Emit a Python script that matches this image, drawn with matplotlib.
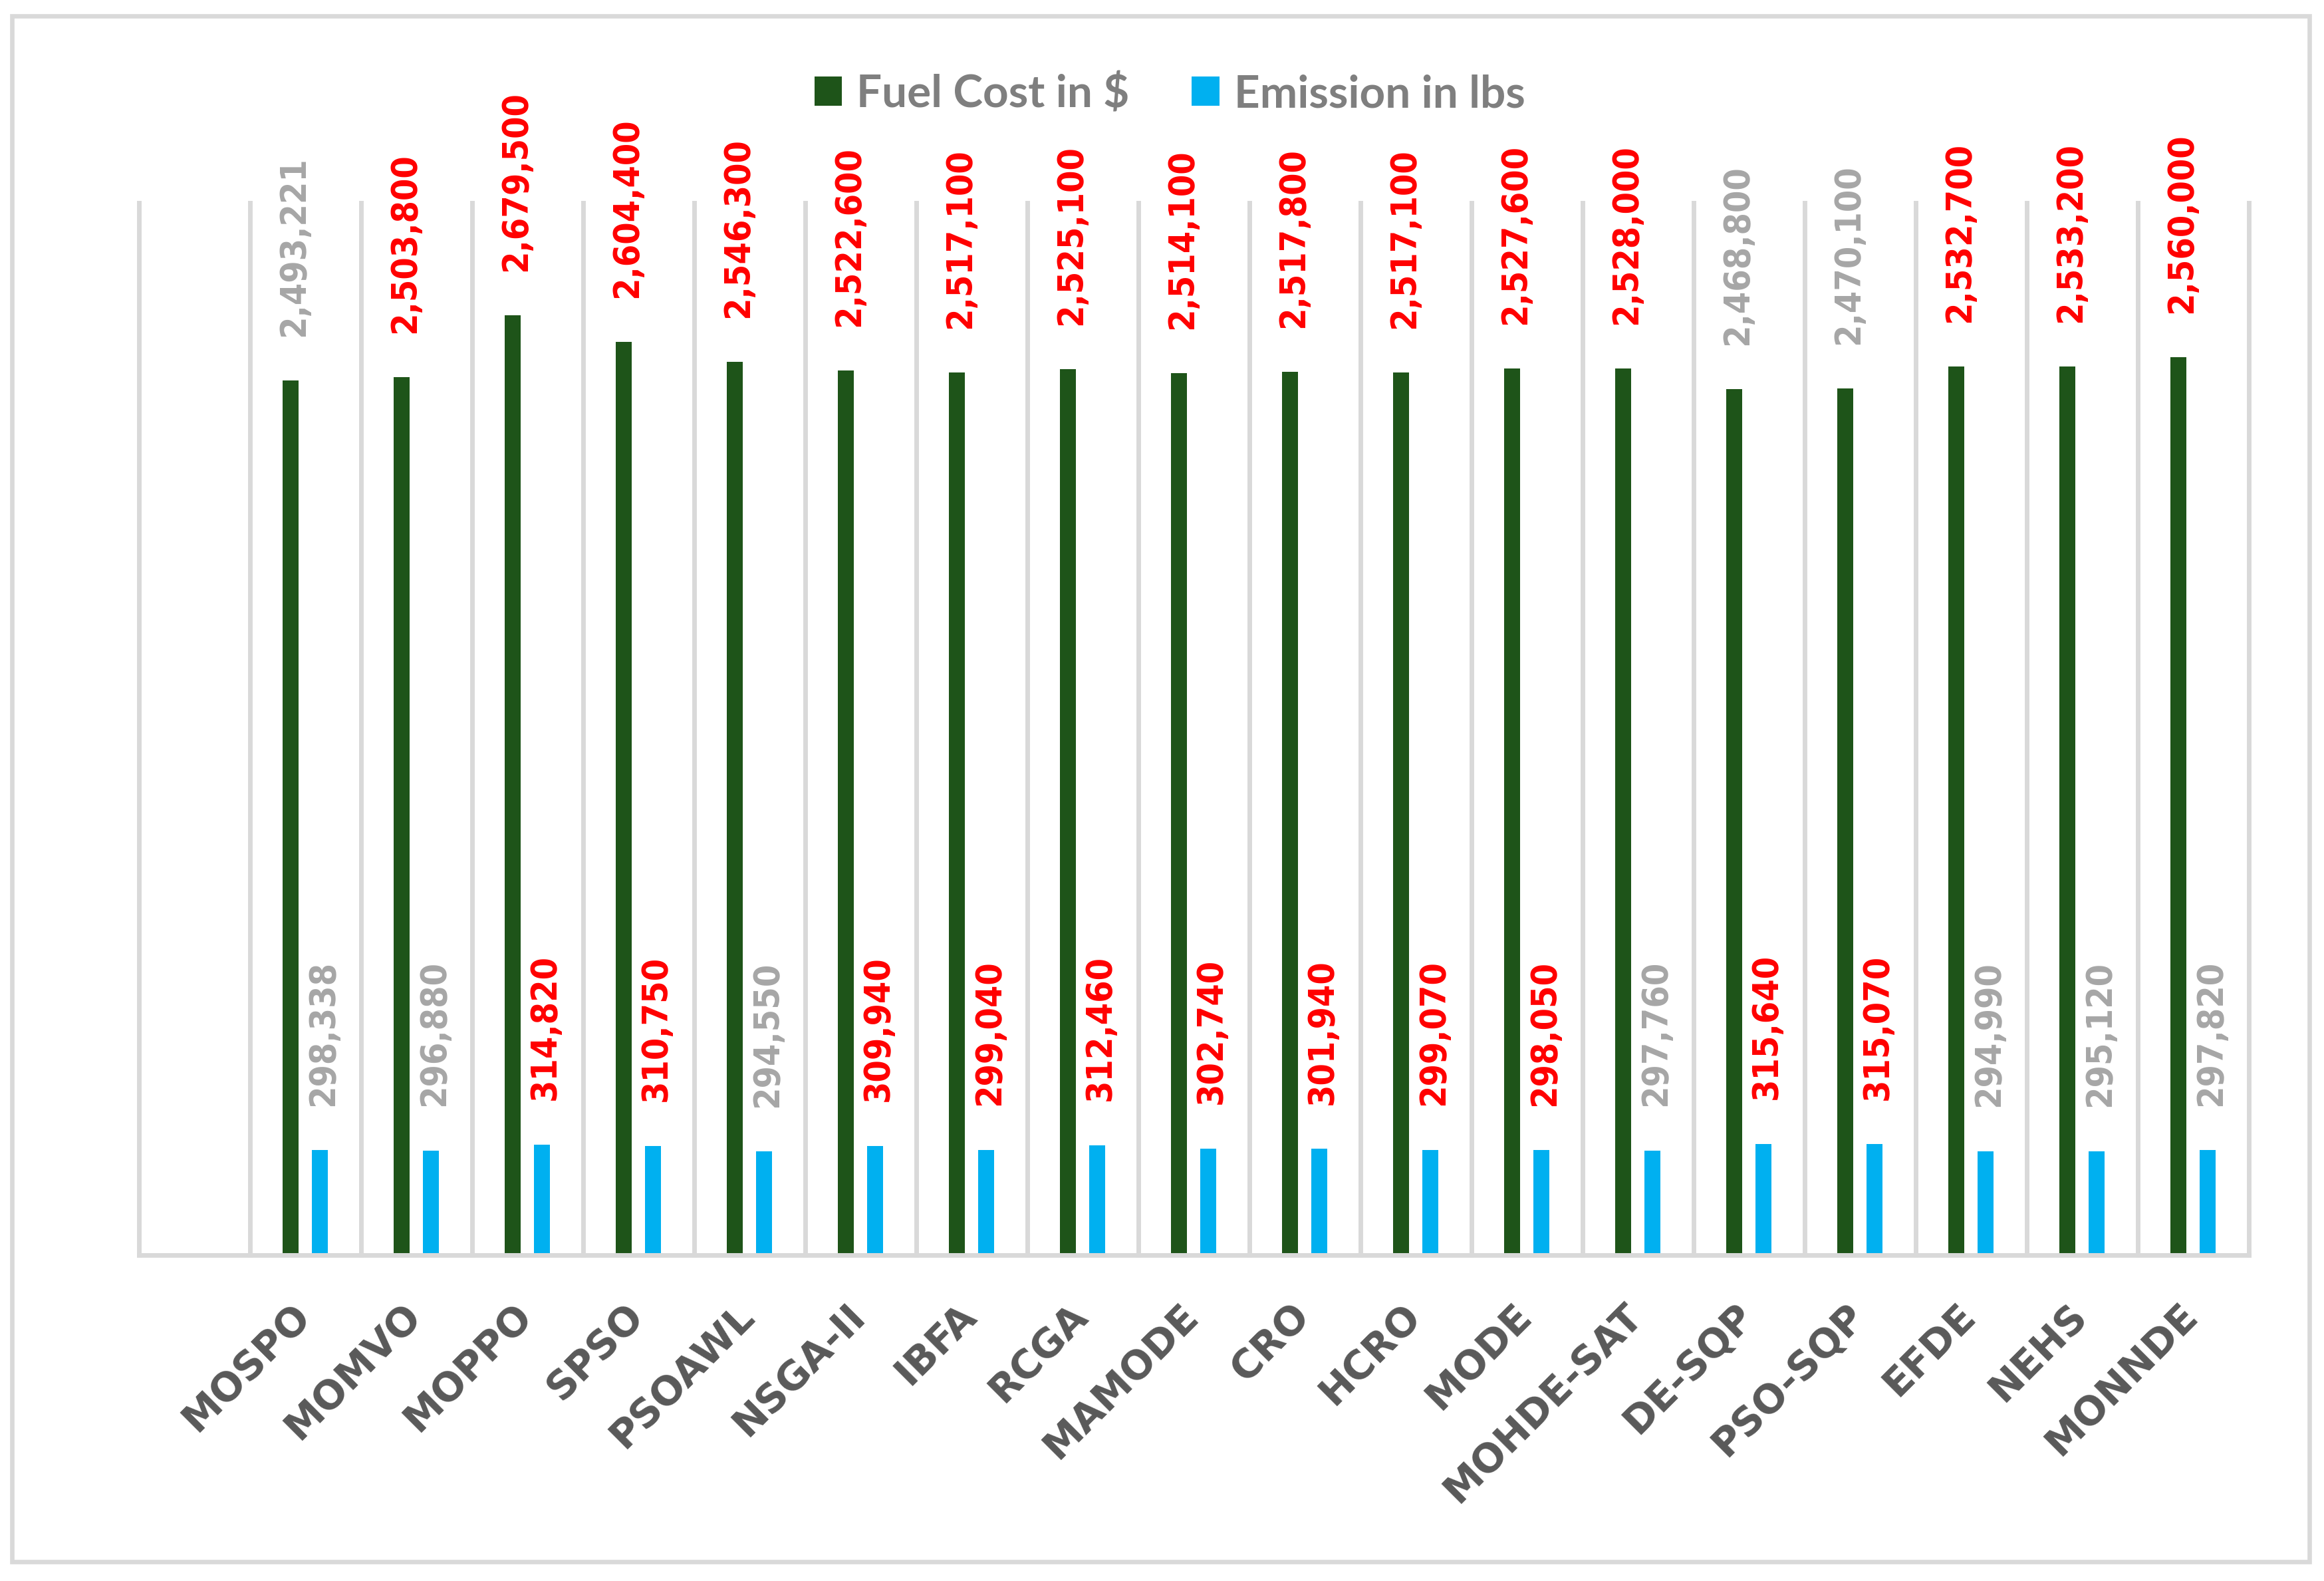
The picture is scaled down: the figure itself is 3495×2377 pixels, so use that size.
import numpy as np
import matplotlib
matplotlib.use("Agg")
import matplotlib.pyplot as plt
import matplotlib.transforms as mtransforms
from matplotlib import font_manager as fm
from matplotlib.patches import Rectangle, Patch

# ---------------- data ----------------
categories = ["MOSPO", "MOMVO", "MOPPO", "SPSO", "PSOAWL", "NSGA-II", "IBFA", "RCGA",
              "MAMODE", "CRO", "HCRO", "MODE", "MOHDE-SAT", "DE-SQP", "PSO-SQP",
              "EFDE", "NEHS", "MONNDE"]
fuel_cost = [2493221, 2503800, 2679500, 2604400, 2546300, 2522600, 2517100, 2525100,
             2514100, 2517800, 2517100, 2527600, 2528000, 2468800, 2470100,
             2532700, 2533200, 2560000]
emission = [298338, 296880, 314820, 310750, 294550, 309940, 299040, 312460,
            302740, 301940, 299070, 298050, 297760, 315640, 315070,
            294990, 295120, 297820]
# label colour flags: 'r' = red, 'g' = grey
fuel_label_col = ['g', 'r', 'r', 'r', 'r', 'r', 'r', 'r', 'r', 'r', 'r', 'r', 'r',
                  'g', 'g', 'r', 'r', 'r']
emis_label_col = ['g', 'g', 'r', 'r', 'g', 'r', 'r', 'r', 'r', 'r', 'r', 'r', 'g',
                  'r', 'r', 'g', 'g', 'g']
series_names = ["Fuel Cost in $", "Emission in lbs"]

# ---------------- style ----------------
GREEN = "#1E5419"
BLUE = "#00B0F0"
RED = "#FF0000"
GREY_LBL = "#A6A6A6"
GRID = "#D9D9D9"
TICK_COL = "#595959"
col_map = {'r': RED, 'g': GREY_LBL}

W, H, DPI = 3495, 2377, 100
fig = plt.figure(figsize=(W / DPI, H / DPI), dpi=DPI)
fig.patch.set_facecolor("white")

# outer chart border
fig.patches.append(Rectangle((18.3 / W, 1 - 2348 / H), (3472.5 - 18.3) / W, (2348 - 23.5) / H,
                             transform=fig.transFigure, fill=False, edgecolor=GRID,
                             linewidth=4.8, zorder=0))

left, right = 208.5 / W, 3381.5 / W
bottom, top = 1 - 1886.5 / H, 1 - 305 / H
ax = fig.add_axes([left, bottom, right - left, top - bottom])

n = len(categories)
x = np.arange(1, n + 1)          # first slot (0) is an empty category
bw = 0.142
off = 0.131

ax.bar(x - off, fuel_cost, width=bw, color=GREEN, zorder=2)
ax.bar(x + off, emission, width=bw, color=BLUE, zorder=2)

ax.set_xlim(-0.5, n + 0.5)
ax.set_ylim(0, 3000000)

# vertical separators between categories
for b in np.arange(-0.5, n + 1.0, 1.0):
    ax.axvline(b, color=GRID, linewidth=5, zorder=1, clip_on=False)

for s in ["left", "right", "top"]:
    ax.spines[s].set_visible(False)
ax.spines["bottom"].set_color(GRID)
ax.spines["bottom"].set_linewidth(5)
ax.spines["bottom"].set_zorder(3)
ax.set_yticks([])

# value-label font
cond = fm.FontProperties(family="DejaVu Sans", weight="bold", stretch="condensed")
cpath = fm.findfont(cond)
if "Condensed" in cpath:
    val_fp = fm.FontProperties(fname=cpath, size=38.5)
else:
    val_fp = fm.FontProperties(family="DejaVu Sans", weight="bold", size=36)

for xi, v, c in zip(x, fuel_cost, fuel_label_col):
    ax.annotate(f"{v:,}", xy=(xi - off, v), xytext=(3.5, 47.5), textcoords="offset points",
                rotation=90, ha="center", va="bottom", color=col_map[c],
                fontproperties=val_fp, zorder=4, annotation_clip=False)
for xi, v, c in zip(x, emission, emis_label_col):
    ax.annotate(f"{v:,}", xy=(xi + off, v), xytext=(3.5, 48), textcoords="offset points",
                rotation=90, ha="center", va="bottom", color=col_map[c],
                fontproperties=val_fp, zorder=4, annotation_clip=False)

# category labels
ax.set_xticks(x)
ax.set_xticklabels(categories)
ax.tick_params(axis="x", length=0, pad=68, labelsize=42.5, labelcolor=TICK_COL)
shift = mtransforms.ScaledTranslation(10 / DPI, 0, fig.dpi_scale_trans)
for lab in ax.get_xticklabels():
    lab.set_fontfamily("DejaVu Sans")
    lab.set_fontweight("bold")
    lab.set_rotation(45)
    lab.set_ha("right")
    lab.set_va("baseline")
    lab.set_rotation_mode("anchor")
    lab.set_transform(lab.get_transform() + shift)

# legend
handles = [Patch(facecolor=GREEN, edgecolor="none"), Patch(facecolor=BLUE, edgecolor="none")]
leg = fig.legend(handles, series_names, loc="center", bbox_to_anchor=(1759 / W, 1 - 142 / H),
                 ncol=2, frameon=False, handlelength=0.62, handleheight=0.62,
                 handletextpad=0.32, columnspacing=1.4, borderaxespad=0, borderpad=0,
                 prop={"family": "Lato", "weight": "bold", "size": 48.5})
for t in leg.get_texts():
    t.set_color("#7F7F7F")

fig.savefig("out.png", dpi=DPI, facecolor="white")
